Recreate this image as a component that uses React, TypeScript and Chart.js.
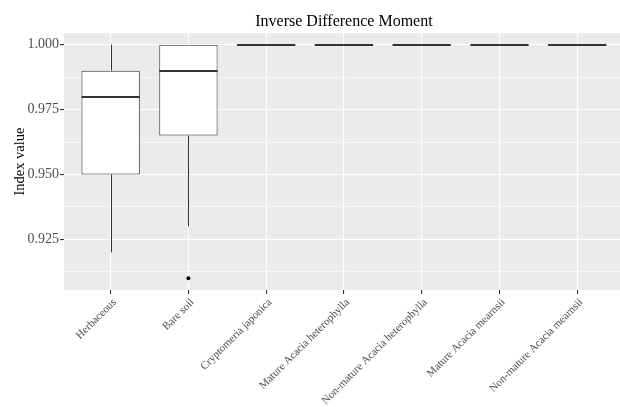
import React, { useEffect, useRef } from 'react';
import { Chart, registerables } from 'chart.js';

Chart.register(...registerables);

const categories = [
  'Herbaceous',
  'Bare soil',
  'Cryptomeria japonica',
  'Mature Acacia heterophylla',
  'Non-mature Acacia heterophylla',
  'Mature Acacia mearnsii',
  'Non-mature Acacia mearnsii',
];
const whiskerLow = [0.92, 0.93, 1.0, 1.0, 1.0, 1.0, 1.0];
const q1 = [0.95, 0.965, 1.0, 1.0, 1.0, 1.0, 1.0];
const medians = [0.98, 0.99, 1.0, 1.0, 1.0, 1.0, 1.0];
const q3 = [0.99, 1.0, 1.0, 1.0, 1.0, 1.0, 1.0];
const whiskerHigh = [1.0, 1.0, 1.0, 1.0, 1.0, 1.0, 1.0];
const outlierCategory = [2];
const outlierValues = [0.91];
const yMajorTicks = [0.925, 0.95, 0.975, 1.0];
const yMinorTicks = [0.9125, 0.9375, 0.9625, 0.9875];
const yMin = 0.9055;
const yMax = 1.0045;
const xMin = 0.4;
const xMax = 7.55;
const titleText = 'Inverse Difference Moment';
const yTitle = 'Index value';

const SERIF = '"Liberation Serif", "DejaVu Serif", serif';
const isMajor = (v: number) => Math.round(v * 10000) % 250 === 0;

const boxPlugin = {
  id: 'boxParts',
  beforeDraw(chart: any) {
    const { ctx, chartArea } = chart;
    ctx.save();
    ctx.fillStyle = '#EBEBEB';
    ctx.fillRect(chartArea.left, chartArea.top, chartArea.right - chartArea.left, chartArea.bottom - chartArea.top);
    ctx.restore();
  },
  beforeDatasetsDraw(chart: any) {
    const { ctx } = chart;
    const x = chart.scales.x;
    const y = chart.scales.y;
    ctx.save();
    ctx.strokeStyle = '#333333';
    ctx.lineWidth = 1;
    categories.forEach((_, i) => {
      const px = Math.round(x.getPixelForValue(i + 1)) + 0.5;
      if (whiskerLow[i] < q1[i]) {
        ctx.beginPath();
        ctx.moveTo(px, y.getPixelForValue(whiskerLow[i]));
        ctx.lineTo(px, y.getPixelForValue(q1[i]));
        ctx.stroke();
      }
      if (whiskerHigh[i] > q3[i]) {
        ctx.beginPath();
        ctx.moveTo(px, y.getPixelForValue(q3[i]));
        ctx.lineTo(px, y.getPixelForValue(whiskerHigh[i]));
        ctx.stroke();
      }
    });
    ctx.restore();
  },
  afterDatasetsDraw(chart: any) {
    const { ctx } = chart;
    const y = chart.scales.y;
    const meta = chart.getDatasetMeta(0);
    ctx.save();
    ctx.strokeStyle = '#333333';
    ctx.lineWidth = 2;
    meta.data.forEach((bar: any, i: number) => {
      const py = Math.round(y.getPixelForValue(medians[i]));
      ctx.beginPath();
      ctx.moveTo(bar.x - bar.width / 2, py);
      ctx.lineTo(bar.x + bar.width / 2, py);
      ctx.stroke();
    });
    ctx.restore();
  },
  afterDraw(chart: any) {
    const { ctx } = chart;
    const x = chart.scales.x;
    ctx.save();
    ctx.font = `16px ${SERIF}`;
    ctx.fillStyle = '#000000';
    ctx.textAlign = 'center';
    ctx.textBaseline = 'alphabetic';
    ctx.fillText(titleText, x.getPixelForValue((1 + categories.length) / 2), 25.5);
    ctx.restore();
  },
};

export default function App() {
  const ref = useRef<HTMLCanvasElement | null>(null);
  useEffect(() => {
    if (!ref.current) return;
    const chart = new Chart(ref.current, {
      type: 'bar',
      data: {
        datasets: [
          {
            type: 'bar',
            data: categories.map((_, i) => ({ x: i + 1, y: [q1[i], q3[i]] })) as any,
            backgroundColor: '#FFFFFF',
            borderColor: '#333333',
            borderWidth: 1,
            borderSkipped: false,
            barPercentage: 0.75,
            categoryPercentage: 1.0,
          } as any,
          {
            type: 'scatter',
            data: outlierCategory.map((c, i) => ({ x: c, y: outlierValues[i] })),
            backgroundColor: '#000000',
            borderColor: '#000000',
            pointRadius: 2,
            borderWidth: 0,
          } as any,
        ],
      },
      options: {
        animation: false,
        responsive: false,
        layout: { autoPadding: false, padding: { top: 33, right: 0, bottom: 0, left: 0 } },
        plugins: {
          legend: { display: false },
          tooltip: { enabled: false },
          title: { display: false },
        },
        scales: {
          x: {
            type: 'linear',
            min: xMin,
            max: xMax,
            bounds: 'data',
            offset: false,
            afterBuildTicks: (axis: any) => {
              axis.ticks = categories.map((_, i) => ({ value: i + 1 }));
            },
            afterFit: (axis: any) => {
              axis.height = 117;
              axis.paddingRight = 0;
              axis.paddingLeft = 0;
            },
            border: { display: false },
            grid: {
              offset: false,
              color: '#FFFFFF',
              lineWidth: 1.1,
              tickLength: 4,
              tickColor: '#333333',
              drawOnChartArea: true,
            },
            ticks: {
              autoSkip: false,
              minRotation: 45,
              maxRotation: 45,
              padding: 2,
              labelOffset: 4,
              color: '#4D4D4D',
              font: { family: SERIF, size: 11 },
              callback: (v: any) => categories[Math.round(v) - 1] ?? '',
            },
          },
          y: {
            type: 'linear',
            min: yMin,
            max: yMax,
            bounds: 'data',
            afterBuildTicks: (axis: any) => {
              axis.ticks = [...yMinorTicks, ...yMajorTicks]
                .sort((a, b) => a - b)
                .map((v) => ({ value: v }));
            },
            afterFit: (axis: any) => {
              axis.width = 64;
            },
            border: { display: false },
            grid: {
              color: '#FFFFFF',
              lineWidth: (c: any) => (c.tick && isMajor(c.tick.value) ? 1.1 : 0.55),
              tickLength: 4,
              tickColor: (c: any) => (c.tick && isMajor(c.tick.value) ? '#333333' : 'rgba(0,0,0,0)'),
            },
            ticks: {
              autoSkip: false,
              padding: 1,
              color: '#4D4D4D',
              font: { family: SERIF, size: 14 },
              callback: (v: any) => (isMajor(Number(v)) ? Number(v).toFixed(3) : ''),
            },
            title: {
              display: true,
              text: yTitle,
              color: '#000000',
              font: { family: SERIF, size: 14.5 },
              padding: { top: 11, bottom: 0 },
            },
          },
        },
      } as any,
      plugins: [boxPlugin],
    });
    return () => chart.destroy();
  }, []);

  return (
    <div style={{ position: 'fixed', left: 0, top: 0, width: 620, height: 407, background: '#FFFFFF' }}>
      <canvas ref={ref} width={620} height={407} style={{ display: 'block' }} />
    </div>
  );
}
